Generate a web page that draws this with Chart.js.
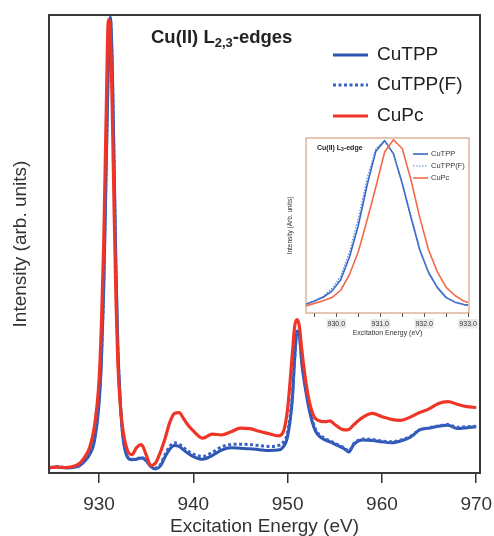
<!DOCTYPE html>
<html>
<head>
<meta charset="utf-8">
<script src="https://cdn.jsdelivr.net/npm/chart.js@4/dist/chart.umd.min.js"></script>
<style>
  html, body { margin: 0; padding: 0; background: #fff; }
  #wrap { position: relative; width: 494px; height: 536px; }
  #main { position: absolute; left: 0; top: 0; }
  #inset { position: absolute; left: 280px; top: 130px; }
</style>
</head>
<body>
<div id="wrap">
  <canvas id="main" width="494" height="536"></canvas>
  <canvas id="inset" width="200" height="215"></canvas>
</div>
<script>
// Cu L2,3-edge XAS spectra (normalised intensity)
const energy = [924.8, 925.5, 926.5, 927.5, 928, 928.5, 929, 929.5, 930, 930.25, 930.5, 930.75,
  931, 931.2, 931.4, 931.6, 931.8, 932, 932.25, 932.5, 933, 933.5, 934, 934.5, 935, 935.5,
  936, 936.5, 937, 937.5, 938, 938.5, 939, 939.5, 940, 941, 942, 943, 944, 945, 946, 947,
  948, 949, 949.5, 950, 950.5, 950.75, 951, 951.25, 951.5, 952, 952.5, 953, 954, 954.5,
  955, 956, 956.5, 957, 958, 959, 960, 961, 962, 963, 964, 965, 966, 967, 968, 969, 970];

const cuTPP = [0.011, 0.013, 0.011, 0.013, 0.017, 0.026, 0.040, 0.068, 0.15, 0.24, 0.40, 0.65,
  0.90, 0.995, 0.90, 0.68, 0.45, 0.28, 0.16, 0.085, 0.035, 0.029, 0.030, 0.033, 0.027, 0.014,
  0.009, 0.015, 0.035, 0.052, 0.060, 0.058, 0.050, 0.042, 0.036, 0.030, 0.038, 0.050, 0.055, 0.054, 0.053, 0.051,
  0.049, 0.050, 0.056, 0.080, 0.16, 0.25, 0.31, 0.30, 0.24, 0.17, 0.12, 0.09, 0.072, 0.068,
  0.063, 0.053, 0.046, 0.062, 0.072, 0.071, 0.068, 0.066, 0.070, 0.078, 0.094, 0.098, 0.102, 0.104, 0.097, 0.099, 0.101];

const cuTPPF = [0.012, 0.014, 0.012, 0.013, 0.017, 0.027, 0.042, 0.072, 0.16, 0.25, 0.41, 0.66,
  0.90, 0.99, 0.89, 0.67, 0.44, 0.27, 0.16, 0.088, 0.037, 0.030, 0.031, 0.034, 0.028, 0.016,
  0.011, 0.018, 0.040, 0.058, 0.066, 0.063, 0.055, 0.047, 0.041, 0.036, 0.045, 0.057, 0.062, 0.063, 0.062, 0.060,
  0.058, 0.060, 0.066, 0.090, 0.17, 0.25, 0.305, 0.30, 0.245, 0.175, 0.125, 0.094, 0.075, 0.070,
  0.065, 0.055, 0.048, 0.064, 0.074, 0.073, 0.070, 0.068, 0.072, 0.080, 0.094, 0.099, 0.103, 0.106, 0.100, 0.101, 0.102];

const cuPc = [0.012, 0.013, 0.012, 0.016, 0.022, 0.035, 0.055, 0.10, 0.20, 0.32, 0.50, 0.77,
  0.99, 0.96, 0.80, 0.58, 0.38, 0.24, 0.15, 0.10, 0.05, 0.040, 0.056, 0.062, 0.040, 0.016,
  0.022, 0.045, 0.075, 0.110, 0.130, 0.132, 0.118, 0.103, 0.092, 0.076, 0.085, 0.083, 0.090, 0.098, 0.097, 0.091,
  0.086, 0.081, 0.088, 0.14, 0.26, 0.32, 0.335, 0.32, 0.27, 0.19, 0.14, 0.118, 0.112, 0.114,
  0.106, 0.094, 0.095, 0.105, 0.122, 0.130, 0.123, 0.117, 0.115, 0.122, 0.132, 0.140, 0.152, 0.156, 0.150, 0.145, 0.143];

const xTickValues = [930, 940, 950, 960, 970];

// L3-edge close-up
const insetEnergy = [929.3, 929.5, 929.7, 929.9, 930.1, 930.3, 930.5, 930.7, 930.9, 931.1,
  931.3, 931.5, 931.7, 931.9, 932.1, 932.3, 932.5, 932.7, 932.9, 933.0];
const insetCuTPP = [0.050, 0.068, 0.090, 0.125, 0.19, 0.32, 0.50, 0.73, 0.925, 0.985,
  0.91, 0.74, 0.545, 0.36, 0.23, 0.145, 0.088, 0.062, 0.048, 0.045];
const insetCuTPPF = [0.050, 0.070, 0.095, 0.14, 0.21, 0.35, 0.54, 0.77, 0.94, 0.985,
  0.91, 0.745, 0.56, 0.37, 0.235, 0.15, 0.092, 0.064, 0.049, 0.046];
const insetCuPc = [0.040, 0.055, 0.070, 0.088, 0.13, 0.22, 0.35, 0.53, 0.72, 0.92,
  0.99, 0.94, 0.76, 0.545, 0.36, 0.235, 0.146, 0.10, 0.068, 0.060];
const insetTickValues = [929.5, 930, 930.5, 931, 931.5, 932, 932.5, 933];

const FAMILY = "'Liberation Sans', Arial, Helvetica, sans-serif";
Chart.defaults.font.family = FAMILY;
Chart.defaults.color = '#333';

const pts = (xs, ys) => xs.map((x, i) => ({ x, y: ys[i] }));

// keep the plot area fixed: no extra margin for overhanging tick labels
const fixSize = (w, h) => s => {
  if (w !== null) s.width = w;
  if (h !== null) s.height = h;
  s.paddingLeft = 0; s.paddingRight = 0; s.paddingTop = 0; s.paddingBottom = 0;
};

// Plot frame, heading (with subscript) and line key, drawn over the data
const boxAndKey = {
  id: 'boxAndKey',
  afterDatasetsDraw(chart, args, o) {
    const { ctx, chartArea: a } = chart;
    ctx.save();
    ctx.strokeStyle = o.frameColor;
    ctx.lineWidth = o.frameWidth;
    ctx.strokeRect(a.left, a.top, a.right - a.left, a.bottom - a.top);

    const h = o.heading;
    let x = h.x;
    ctx.fillStyle = h.color;
    ctx.textAlign = 'left';
    ctx.textBaseline = 'alphabetic';
    h.parts.forEach(([txt, sub]) => {
      ctx.font = `bold ${sub ? h.subSize : h.size}px ${FAMILY}`;
      ctx.fillText(txt, x, h.y + (sub ? h.subDrop : 0));
      x += ctx.measureText(txt).width;
    });

    const k = o.key;
    chart.data.datasets.forEach((ds, i) => {
      const y = k.rows[i];
      ctx.save();
      ctx.strokeStyle = ds.borderColor;
      ctx.lineWidth = ds.borderWidth * k.lineScale;
      ctx.setLineDash(ds.borderDash || []);
      ctx.beginPath();
      ctx.moveTo(k.x0, y);
      ctx.lineTo(k.x1, y);
      ctx.stroke();
      ctx.restore();
      ctx.font = `${k.size}px ${FAMILY}`;
      ctx.textBaseline = 'middle';
      ctx.fillStyle = k.color;
      ctx.fillText(ds.label, k.tx, y);
    });
    ctx.restore();
  }
};

const lineDefaults = { pointRadius: 0, fill: false, borderJoinStyle: 'round', borderCapStyle: 'butt' };

new Chart(document.getElementById('main'), {
  type: 'line',
  data: {
    datasets: [
      { ...lineDefaults, label: 'CuTPP', data: pts(energy, cuTPP), borderColor: '#2c56b2', borderWidth: 3, cubicInterpolationMode: 'monotone', order: 2 },
      { ...lineDefaults, label: 'CuTPP(F)', data: pts(energy, cuTPPF), borderColor: '#3a62c2', borderWidth: 3, borderDash: [3, 2.5], cubicInterpolationMode: 'monotone', order: 1 },
      { ...lineDefaults, label: 'CuPc', data: pts(energy, cuPc), borderColor: '#ee3527', borderWidth: 3.2, cubicInterpolationMode: 'monotone', order: 0 }
    ]
  },
  options: {
    responsive: false,
    animation: false,
    events: [],
    layout: { padding: { top: 15, right: 14, left: 0, bottom: 0 } },
    scales: {
      x: {
        type: 'linear',
        min: 924.7,
        max: 970.4,
        afterBuildTicks: s => { s.ticks = xTickValues.map(value => ({ value })); },
        afterFit: fixSize(null, 63),
        grid: { drawOnChartArea: false, drawTicks: true, tickLength: 10, color: '#333', lineWidth: 1.5 },
        border: { display: false },
        ticks: { autoSkip: false, maxRotation: 0, padding: 10, color: '#333', font: { size: 19 }, callback: v => String(v) },
        title: { display: true, text: 'Excitation Energy (eV)', color: '#333', font: { size: 19, lineHeight: 1.0 }, padding: 0 }
      },
      y: {
        min: 0,
        max: 1.0,
        afterFit: fixSize(49, null),
        grid: { display: false },
        border: { display: false },
        ticks: { display: false },
        title: { display: true, text: 'Intensity (arb. units)', color: '#333', font: { size: 19, lineHeight: 1.2 }, padding: { top: 9, bottom: 0 } }
      }
    },
    plugins: {
      legend: { display: false },
      tooltip: { enabled: false },
      boxAndKey: {
        frameColor: '#3b3838',
        frameWidth: 2,
        heading: { parts: [['Cu(II) L', false], ['2,3', true], ['-edges', false]], x: 151, y: 42.5, size: 18.5, subSize: 13, subDrop: 4.5, color: '#222' },
        key: { rows: [55, 85, 116], x0: 333, x1: 368, tx: 377, size: 19, color: '#222', lineScale: 1 }
      }
    }
  },
  plugins: [boxAndKey]
});

new Chart(document.getElementById('inset'), {
  type: 'line',
  data: {
    datasets: [
      { ...lineDefaults, label: 'CuTPP', data: pts(insetEnergy, insetCuTPP), borderColor: '#3466c8', borderWidth: 1.6, tension: 0, order: 2 },
      { ...lineDefaults, label: 'CuTPP(F)', data: pts(insetEnergy, insetCuTPPF), borderColor: '#5a82d4', borderWidth: 1.1, borderDash: [1.5, 1.5], tension: 0, order: 1 },
      { ...lineDefaults, label: 'CuPc', data: pts(insetEnergy, insetCuPc), borderColor: '#f26a4c', borderWidth: 1.6, tension: 0, order: 0 }
    ]
  },
  options: {
    responsive: false,
    animation: false,
    events: [],
    layout: { padding: { top: 8, right: 11, left: 0, bottom: 0 } },
    scales: {
      x: {
        type: 'linear',
        min: 929.31,
        max: 933.02,
        afterBuildTicks: s => { s.ticks = insetTickValues.map(value => ({ value })); },
        afterFit: fixSize(null, 32),
        grid: { drawOnChartArea: false, drawTicks: true, tickLength: 4, color: '#555', lineWidth: 1 },
        border: { display: false },
        ticks: {
          autoSkip: false, maxRotation: 0, padding: 3, color: '#333', font: { size: 7 },
          callback: v => Number.isInteger(v) ? v.toFixed(1) : '',
          showLabelBackdrop: c => Number.isInteger(c.tick.value),
          backdropColor: '#e9e9e9',
          backdropPadding: { top: 1, bottom: 0, left: 1, right: 1 }
        },
        title: { display: true, text: 'Excitation Energy (eV)', color: '#333', font: { size: 7, lineHeight: 1.2 }, padding: { top: 0, bottom: 8 } }
      },
      y: {
        min: 0,
        max: 1.0,
        afterFit: fixSize(26, null),
        grid: { display: false },
        border: { display: false },
        ticks: { display: false },
        title: { display: true, text: 'Intensity (Arb. units)', color: '#333', font: { size: 6.5, lineHeight: 1.2 }, padding: { top: 6, bottom: 0 } }
      }
    },
    plugins: {
      legend: { display: false },
      tooltip: { enabled: false },
      boxAndKey: {
        frameColor: '#c98d66',
        frameWidth: 1,
        heading: { parts: [['Cu(II) L', false], ['3', true], ['-edge', false]], x: 37, y: 19.5, size: 7, subSize: 5, subDrop: 1.8, color: '#222' },
        key: { rows: [24, 36, 48], x0: 133, x1: 148, tx: 151, size: 7.5, color: '#333', lineScale: 1 }
      }
    }
  },
  plugins: [boxAndKey]
});
</script>
</body>
</html>
